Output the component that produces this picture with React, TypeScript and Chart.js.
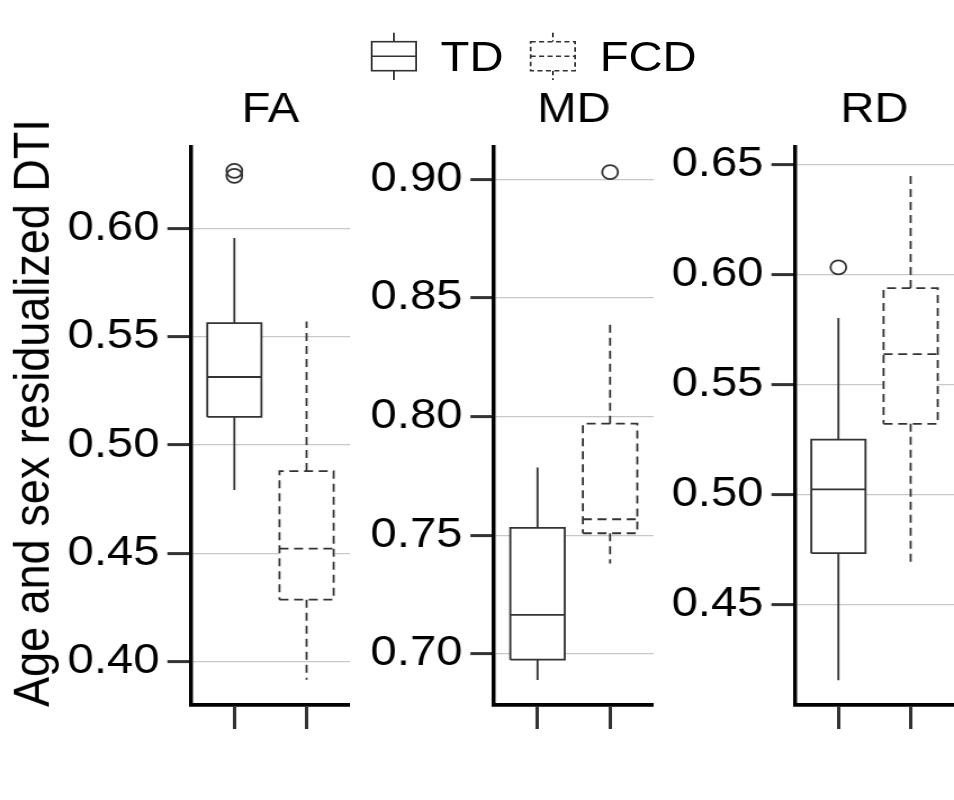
import React, { useEffect, useRef } from 'react';
import { Chart, registerables } from 'chart.js';

Chart.register(...registerables);

const FONT = "'Liberation Sans', Arial, Helvetica, sans-serif";
Chart.defaults.font.family = FONT;

// ---- data ----
const panelNames = ['FA', 'MD', 'RD'];
const groupNames = ['TD', 'FCD'];
const groupPositions = [1, 2];

// [lower whisker, Q1, median, Q3, upper whisker]
const faTD = [0.4793, 0.513, 0.5314, 0.5563, 0.5955];
const faFCD = [0.3917, 0.4287, 0.4522, 0.488, 0.557];
const mdTD = [0.6889, 0.6975, 0.7164, 0.7531, 0.7785];
const mdFCD = [0.738, 0.7508, 0.7567, 0.797, 0.8405];
const rdTD = [0.4156, 0.4733, 0.5023, 0.5249, 0.5802];
const rdFCD = [0.4689, 0.5321, 0.5638, 0.5938, 0.6466];

const faTDOutliers = [0.6265, 0.6242];
const faFCDOutliers: number[] = [];
const mdTDOutliers: number[] = [];
const mdFCDOutliers = [0.903];
const rdTDOutliers = [0.6032];
const rdFCDOutliers: number[] = [];

const faTicks = [0.4, 0.45, 0.5, 0.55, 0.6];
const mdTicks = [0.7, 0.75, 0.8, 0.85, 0.9];
const rdTicks = [0.45, 0.5, 0.55, 0.6, 0.65];

const faRange = [0.3801, 0.6375];
const mdRange = [0.6784, 0.9136];
const rdRange = [0.4043, 0.6579];

const yTitle = 'Age and sex residualized DTI';

// ---- style ----
const STRETCH = 1.125;
const LINE = '#333333';
const DASH = [8, 5];
const HALF = 0.375;
const BOX_W = 1.8;

type PanelProps = {
  name: string;
  stats: number[][];
  outliers: number[][];
  ticks: number[];
  range: number[];
  left: number;
  width: number;
  yWidth: number;
};

function Panel({ name, stats, outliers, ticks, range, left, width, yWidth }: PanelProps) {
  const ref = useRef<HTMLCanvasElement | null>(null);
  useEffect(() => {
    const datasets: any[] = [];
    const boxes: any[] = [];
    stats.forEach((s, g) => {
      const p = groupPositions[g];
      const dash = g === 1 ? DASH : [];
      const [lo, q1, med, q3, hi] = s;
      const common = {
        showLine: true,
        pointRadius: 0,
        borderColor: LINE,
        borderWidth: BOX_W,
        borderDash: dash,
        borderCapStyle: 'butt',
        tension: 0,
        fill: false,
        xAxisID: 'x',
        yAxisID: 'y',
        label: groupNames[g],
      };
      datasets.push({ ...common, data: [{ x: p - HALF, y: med }, { x: p + HALF, y: med }] });
      datasets.push({ ...common, data: [{ x: p, y: q3 }, { x: p, y: hi }] });
      datasets.push({ ...common, data: [{ x: p, y: q1 }, { x: p, y: lo }] });
      datasets.push({
        label: groupNames[g],
        xAxisID: 'x',
        yAxisID: 'y',
        showLine: false,
        pointRadius: 7,
        pointBorderWidth: 1.8,
        pointBorderColor: LINE,
        pointBackgroundColor: 'rgba(0,0,0,0)',
        data: outliers[g].map((v) => ({ x: p, y: v })),
      });
      boxes.push({
        ...common,
        fill: 'shape',
        backgroundColor: '#ffffff',
        borderJoinStyle: 'miter',
        data: [
          { x: p - HALF, y: q1 },
          { x: p + HALF, y: q1 },
          { x: p + HALF, y: q3 },
          { x: p - HALF, y: q3 },
          { x: p - HALF, y: q1 },
        ],
      });
    });
    boxes.forEach((b) => datasets.push(b));

    const chart = new Chart(ref.current as HTMLCanvasElement, {
      type: 'scatter',
      data: { datasets },
      options: {
        animation: false,
        responsive: false,
        devicePixelRatio: 1,
        events: [],
        layout: { padding: 0, autoPadding: false },
        plugins: {
          legend: { display: false },
          tooltip: { enabled: false },
          title: { display: false },
        },
        scales: {
          x: {
            type: 'linear',
            position: 'bottom',
            min: 0.4,
            max: 2.6,
            afterBuildTicks: (s: any) => {
              s.ticks = groupPositions.map((v) => ({ value: v }));
            },
            afterFit: (s: any) => {
              s.height = 95;
            },
            ticks: { callback: () => '', padding: 0, font: { size: 8 } },
            grid: {
              drawOnChartArea: false,
              drawTicks: true,
              tickLength: 24,
              tickWidth: 3,
              tickColor: LINE,
            },
            border: { display: true, color: '#000000', width: 3.8 },
          },
          xt: {
            type: 'linear',
            axis: 'x',
            position: 'top',
            display: true,
            afterFit: (s: any) => {
              s.height = 147;
            },
            ticks: { display: false },
            grid: { display: false, drawTicks: false },
            border: { display: false },
            title: {
              display: true,
              text: name,
              color: '#000000',
              font: { family: FONT, size: 42 },
              padding: { top: 84.8, bottom: 0 },
            },
          },
          y: {
            type: 'linear',
            position: 'left',
            min: range[0],
            max: range[1],
            afterBuildTicks: (s: any) => {
              s.ticks = ticks.map((v) => ({ value: v }));
            },
            afterFit: (s: any) => {
              s.width = yWidth;
            },
            ticks: {
              color: '#000000',
              font: { family: FONT, size: 42 },
              padding: 7,
              callback: (v: any) => Number(v).toFixed(2),
            },
            grid: {
              color: '#c8c8c8',
              lineWidth: 1.2,
              drawTicks: true,
              tickLength: 21,
              tickWidth: 3,
              tickColor: LINE,
            },
            border: { display: true, color: '#000000', width: 3.5 },
          },
        },
      } as any,
    });
    return () => chart.destroy();
  }, []);
  return (
    <canvas
      ref={ref}
      width={width}
      height={800}
      style={{ position: 'absolute', left, top: 0, width, height: 800 }}
    />
  );
}

function LegendIcon({ x, dashed }: { x: number; dashed: boolean }) {
  const w = 39.5;
  const top = 41.7;
  const h = 29;
  const cx = x + w / 2;
  const da = dashed ? '4.5 3' : undefined;
  return (
    <g stroke={LINE} strokeWidth={1.6} fill="#fff" strokeDasharray={da}>
      <line x1={cx} y1={32.7} x2={cx} y2={top} />
      <line x1={cx} y1={top + h} x2={cx} y2={80} />
      <rect x={x} y={top} width={w} height={h} />
      <line x1={x} y1={top + h / 2} x2={x + w} y2={top + h / 2} />
    </g>
  );
}

export default function App() {
  const textStyle: React.CSSProperties = {
    position: 'absolute',
    fontFamily: FONT,
    fontSize: 42,
    lineHeight: 1,
    color: '#000',
    whiteSpace: 'nowrap',
  };
  return (
    <div
      style={{
        position: 'absolute',
        left: 0,
        top: 0,
        width: 848,
        height: 800,
        background: '#fff',
        transform: `scaleX(${STRETCH})`,
        transformOrigin: '0 0',
        overflow: 'hidden',
      }}
    >
      <Panel
        name={panelNames[0]}
        stats={[faTD, faFCD]}
        outliers={[faTDOutliers, faFCDOutliers]}
        ticks={faTicks}
        range={faRange}
        left={0}
        width={311}
        yWidth={169.8}
      />
      <Panel
        name={panelNames[1]}
        stats={[mdTD, mdFCD]}
        outliers={[mdTDOutliers, mdFCDOutliers]}
        ticks={mdTicks}
        range={mdRange}
        left={311}
        width={270}
        yWidth={128.1}
      />
      <Panel
        name={panelNames[2]}
        stats={[rdTD, rdFCD]}
        outliers={[rdTDOutliers, rdFCDOutliers]}
        ticks={rdTicks}
        range={rdRange}
        left={581}
        width={267}
        yWidth={125.7}
      />
      <svg
        width={848}
        height={100}
        style={{ position: 'absolute', left: 0, top: 0 }}
      >
        <LegendIcon x={330.4} dashed={false} />
        <LegendIcon x={471.7} dashed={true} />
      </svg>
      <span style={{ ...textStyle, left: 391.6, top: 36 }}>{groupNames[0]}</span>
      <span style={{ ...textStyle, left: 533, top: 36 }}>{groupNames[1]}</span>
      <div
        style={{
          ...textStyle,
          fontSize: 45,
          left: 27.6,
          top: 412.5,
          transform: 'translate(-50%, -50%) rotate(-90deg)',
        }}
      >
        {yTitle}
      </div>
    </div>
  );
}
